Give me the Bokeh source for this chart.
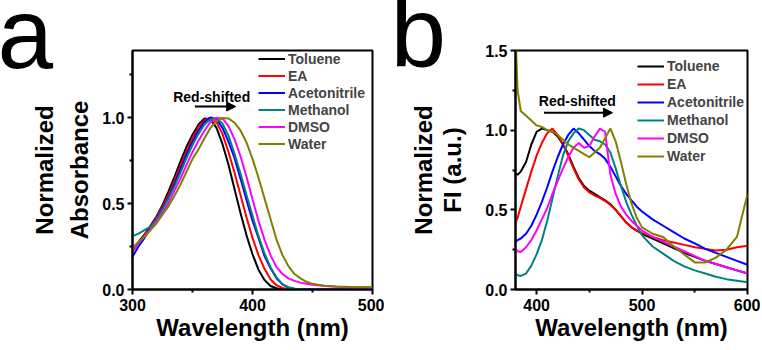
from bokeh.plotting import figure
from bokeh.layouts import row
from bokeh.models import (Range1d, FixedTicker, PrintfTickFormatter, Label, Arrow, NormalHead,
                          LinearAxis)
from bokeh.embed import file_html
from bokeh.resources import INLINE

# ---------------- data: panel a (absorbance) ----------------
abs_wl = [300, 305, 310, 315, 320, 325, 330, 335, 340, 345, 350, 355, 360, 365, 370, 375,
          380, 385, 390, 395, 400, 405, 410, 415, 420, 425, 430, 435, 440, 445, 450,
          460, 470, 480, 490, 500]
abs_toluene = [0.24, 0.275, 0.32, 0.37, 0.425, 0.49, 0.57, 0.655, 0.745, 0.83, 0.90, 0.96, 0.995,
               0.99, 0.94, 0.845, 0.725, 0.585, 0.445, 0.315, 0.205, 0.115, 0.055, 0.02, 0.007, 0.002,
               0, 0, 0, 0, 0, 0, 0, 0, 0, 0]
abs_ea = [0.22, 0.27, 0.315, 0.365, 0.42, 0.48, 0.55, 0.635, 0.72, 0.805, 0.88, 0.945, 0.985,
          0.999, 0.972, 0.905, 0.80, 0.68, 0.55, 0.42, 0.30, 0.20, 0.12, 0.06, 0.025, 0.009, 0.003,
          0.001, 0, 0, 0, 0, 0, 0, 0, 0]
abs_acn = [0.19, 0.25, 0.30, 0.36, 0.41, 0.47, 0.535, 0.615, 0.70, 0.785, 0.86, 0.925, 0.975,
           1.0, 0.99, 0.94, 0.86, 0.765, 0.645, 0.52, 0.40, 0.30, 0.195, 0.125, 0.065, 0.03, 0.012,
           0.005, 0.002, 0.001, 0, 0, 0, 0, 0, 0]
abs_meoh = [0.31, 0.325, 0.345, 0.365, 0.405, 0.465, 0.53, 0.60, 0.68, 0.765, 0.84, 0.905, 0.96,
            0.99, 0.997, 0.965, 0.895, 0.79, 0.675, 0.55, 0.43, 0.31, 0.21, 0.13, 0.07, 0.03, 0.012,
            0.005, 0.002, 0.001, 0, 0, 0, 0, 0, 0]
abs_dmso = [0.225, 0.27, 0.31, 0.35, 0.395, 0.445, 0.505, 0.575, 0.645, 0.725, 0.80, 0.865, 0.925,
            0.975, 0.998, 0.995, 0.95, 0.875, 0.775, 0.655, 0.525, 0.40, 0.29, 0.20, 0.13, 0.09, 0.065,
            0.05, 0.04, 0.033, 0.027, 0.02, 0.016, 0.013, 0.011, 0.01]
abs_water = [0.24, 0.275, 0.305, 0.345, 0.385, 0.435, 0.485, 0.545, 0.61, 0.685, 0.76, 0.815, 0.88,
             0.94, 0.978, 0.998, 0.995, 0.97, 0.925, 0.855, 0.76, 0.65, 0.53, 0.41, 0.29, 0.20, 0.135,
             0.09, 0.065, 0.045, 0.033, 0.022, 0.018, 0.016, 0.015, 0.015]

# ---------------- data: panel b (fluorescence) ----------------
fl_wl = [380, 382, 385, 390, 395, 400, 405, 410, 415, 420, 425, 430, 435, 440, 445, 450, 455, 460,
         465, 470, 475, 480, 485, 490, 495, 500, 510, 520, 530, 540, 550, 560, 570, 580, 590, 600]
fl_toluene = [0.73, 0.72, 0.74, 0.80, 0.91, 0.99, 1.01, 1.0, 0.99, 0.96, 0.91, 0.85, 0.77, 0.70, 0.65,
              0.62, 0.60, 0.58, 0.56, 0.535, 0.50, 0.46, 0.42, 0.39, 0.37, 0.35, 0.32, 0.29, 0.26,
              0.23, 0.205, 0.18, 0.16, 0.14, 0.12, 0.10]
fl_ea = [0.42, 0.45, 0.52, 0.63, 0.74, 0.84, 0.92, 0.98, 1.01, 0.97, 0.91, 0.84, 0.76, 0.69, 0.64,
         0.61, 0.59, 0.575, 0.555, 0.53, 0.50, 0.46, 0.42, 0.39, 0.37, 0.355, 0.33, 0.31, 0.295,
         0.28, 0.265, 0.255, 0.245, 0.25, 0.265, 0.275]
fl_acn = [0.30, 0.31, 0.32, 0.35, 0.40, 0.47, 0.55, 0.64, 0.74, 0.83, 0.91, 0.97, 1.01, 0.98, 0.94,
          0.90, 0.87, 0.85, 0.82, 0.77, 0.71, 0.65, 0.60, 0.56, 0.52, 0.49, 0.44, 0.40, 0.36, 0.32,
          0.29, 0.255, 0.23, 0.205, 0.18, 0.155]
fl_meoh = [0.10, 0.09, 0.085, 0.10, 0.15, 0.22, 0.31, 0.43, 0.57, 0.71, 0.84, 0.93, 0.98, 1.01, 1.0,
           0.97, 0.94, 0.93, 0.91, 0.86, 0.76, 0.65, 0.55, 0.47, 0.40, 0.34, 0.27, 0.225, 0.18,
           0.145, 0.12, 0.10, 0.08, 0.065, 0.055, 0.045]
fl_dmso = [0.255, 0.24, 0.235, 0.265, 0.31, 0.37, 0.44, 0.51, 0.60, 0.68, 0.76, 0.83, 0.89, 0.92,
           0.89, 0.90, 0.96, 1.01, 0.99, 0.72, 0.60, 0.52, 0.47, 0.43, 0.40, 0.37, 0.33, 0.30, 0.27,
           0.24, 0.21, 0.18, 0.16, 0.14, 0.12, 0.10]
fl_water = [1.6, 1.25, 1.12, 1.09, 1.06, 1.03, 1.02, 1.0, 0.99, 0.97, 0.94, 0.91, 0.89, 0.87, 0.85,
            0.83, 0.86, 0.89, 0.95, 1.01, 0.93, 0.80, 0.66, 0.54, 0.45, 0.39, 0.35, 0.33, 0.27,
            0.22, 0.17, 0.17, 0.20, 0.25, 0.33, 0.60]

names = ["Toluene", "EA", "Acetonitrile", "Methanol", "DMSO", "Water"]
colors = ["#000000", "#FF0000", "#0000FF", "#008080", "#FF00FF", "#808000"]
abs_series = [abs_toluene, abs_ea, abs_acn, abs_meoh, abs_dmso, abs_water]
fl_series = [fl_toluene, fl_ea, fl_acn, fl_meoh, fl_dmso, fl_water]

FONT = "Liberation Sans"


def style(p, xt, xm, yt, ym, xlabel, ylabel, ylabel_standoff):
    p.outline_line_color = "black"
    p.outline_line_width = 2
    p.outline_line_alpha = 1
    p.xgrid.visible = False
    p.ygrid.visible = False
    p.background_fill_color = "white"
    p.border_fill_color = "white"
    p.xaxis.ticker = FixedTicker(ticks=xt, minor_ticks=xm)
    p.yaxis.ticker = FixedTicker(ticks=yt, minor_ticks=ym)
    p.yaxis.formatter = PrintfTickFormatter(format="%.1f")
    for ax in (p.xaxis[0], p.yaxis[0]):
        ax.axis_line_width = 2
        ax.major_tick_line_width = 2
        ax.minor_tick_line_width = 2
        ax.major_tick_in = 0
        ax.major_tick_out = 5
        ax.minor_tick_in = 0
        ax.minor_tick_out = 3
        ax.major_label_text_font = FONT
        ax.major_label_text_font_style = "bold"
        ax.major_label_text_font_size = "16px"
        ax.major_label_text_color = "black"
        ax.axis_label_text_font = FONT
        ax.axis_label_text_font_style = "bold"
        ax.axis_label_text_font_size = "24px"
        ax.axis_label_text_color = "black"
    p.xaxis.major_label_standoff = 4
    p.yaxis.major_label_standoff = 3
    p.xaxis.axis_label = xlabel
    p.xaxis.axis_label_standoff = 0
    p.yaxis.axis_label = ylabel
    p.yaxis.axis_label_standoff = ylabel_standoff


def outer_label(p, text, standoff):
    ax = LinearAxis(ticker=FixedTicker(ticks=[]), axis_label=text,
                    axis_line_color=None, major_tick_out=0, major_tick_in=0,
                    minor_tick_out=0, minor_tick_in=0, major_label_standoff=0,
                    axis_label_standoff=standoff, axis_label_text_font=FONT,
                    axis_label_text_font_style="bold", axis_label_text_font_size="24px",
                    axis_label_text_color="black")
    p.add_layout(ax, "left")


def panel_letter(p, letter, offset, standoff):
    p.title.text = letter
    p.title.align = "left"
    p.title.vertical_align = "bottom"
    p.title.offset = offset
    p.title.standoff = standoff
    p.title.text_font = FONT
    p.title.text_font_style = "normal"
    p.title.text_font_size = "100px"
    p.title.text_color = "black"


def legend_style(p, loc, row_h):
    lg = p.legend[0]
    lg.location = loc
    lg.border_line_color = None
    lg.background_fill_alpha = 0
    lg.padding = 0
    lg.margin = 0
    lg.spacing = 0
    lg.glyph_width = 27
    lg.glyph_height = row_h
    lg.label_height = row_h
    lg.label_standoff = 3
    lg.label_text_font = FONT
    lg.label_text_font_style = "bold"
    lg.label_text_font_size = "14px"


def note(p, x, y, text):
    p.add_layout(Label(x=x, y=y, text=text, text_align="center", text_baseline="alphabetic",
                       text_font=FONT, text_font_style="bold", text_font_size="14px",
                       text_color="black"))


# ---------------- panel a ----------------
pa = figure(width=384, height=348, x_range=Range1d(300, 500), y_range=Range1d(0, 1.39),
            output_backend="svg", toolbar_location=None,
            min_border_left=132, min_border_right=12, min_border_top=50, min_border_bottom=59)
style(pa, [300, 400, 500], [350, 450], [0, 0.5, 1.0], [0.25, 0.75, 1.25],
      "Wavelength (nm)", "Absorbance", 6)
outer_label(pa, "Normalized", 6)
panel_letter(pa, "a", -135, -76)
for n, c, ys in zip(names, colors, abs_series):
    pa.line(abs_wl, ys, line_color=c, line_width=2, legend_label=n)
legend_style(pa, (126, 137), 17)
note(pa, 366, 1.122, "Red-shifted")
pa.add_layout(Arrow(x_start=352, y_start=1.064, x_end=386, y_end=1.064, line_width=2,
                    line_color="black",
                    end=NormalHead(size=9, fill_color="black", line_color="black", line_width=1)))

# ---------------- panel b ----------------
pb = figure(width=376, height=348, x_range=Range1d(380, 600), y_range=Range1d(0, 1.5),
            output_backend="svg", toolbar_location=None,
            min_border_left=131, min_border_right=13, min_border_top=49, min_border_bottom=59)
style(pb, [400, 500, 600], [450, 550], [0, 0.5, 1.0, 1.5], [0.25, 0.75, 1.25],
      "Wavelength (nm)", "FI (a.u.)", 16)
outer_label(pb, "Normalized", 0)
panel_letter(pb, "b", -125, -74)
for n, c, ys in zip(names, colors, fl_series):
    pb.line(fl_wl, ys, line_color=c, line_width=2, legend_label=n)
legend_style(pb, (122, 124), 18)
note(pb, 438.6, 1.18, "Red-shifted")
pb.add_layout(Arrow(x_start=407, y_start=1.11, x_end=472, y_end=1.11, line_width=2,
                    line_color="black",
                    end=NormalHead(size=9, fill_color="black", line_color="black", line_width=1)))

layout = row(pa, pb, spacing=0)
open("out.html", "w").write(file_html(layout, INLINE))
